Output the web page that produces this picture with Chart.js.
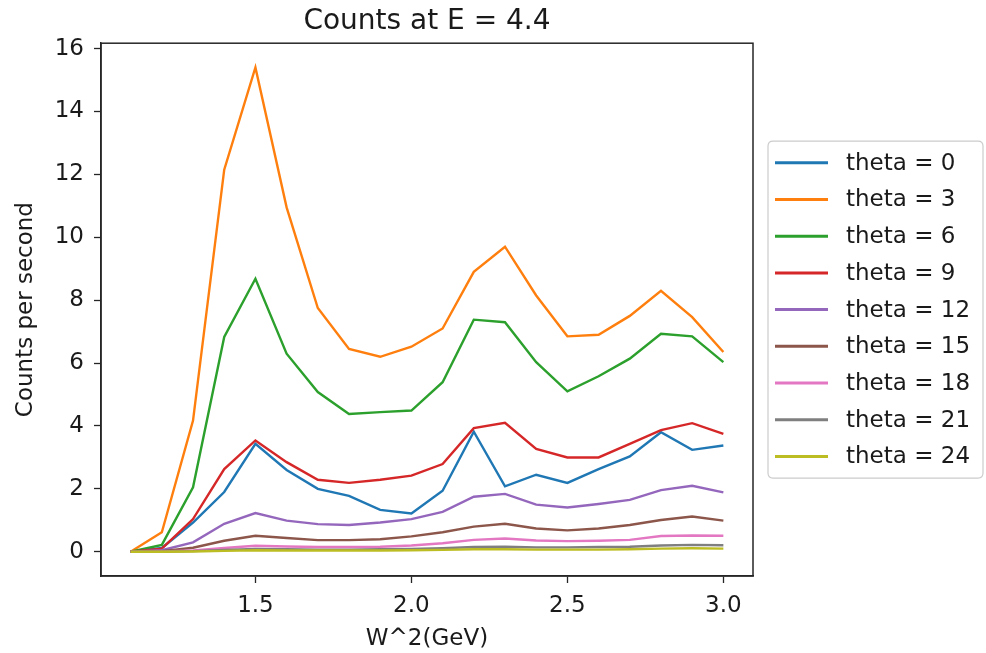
<!DOCTYPE html>
<html>
<head>
<meta charset="utf-8">
<script src="https://cdn.jsdelivr.net/npm/chart.js@4/dist/chart.umd.min.js"></script>
<style>
html,body{margin:0;padding:0;background:#ffffff;}
#c{display:block;}
</style>
</head>
<body>
<canvas id="c" width="986" height="653"></canvas>
<script>
// ---- data ----
const wSquared = [1.1, 1.2, 1.3, 1.4, 1.5, 1.6, 1.7, 1.8, 1.9, 2.0, 2.1, 2.2, 2.3, 2.4, 2.5, 2.6, 2.7, 2.8, 2.9, 3.0];
const theta0  = [0, 0.12, 0.93, 1.9, 3.43, 2.6, 2.0, 1.78, 1.33, 1.22, 1.94, 3.82, 2.08, 2.45, 2.19, 2.63, 3.03, 3.8, 3.24, 3.38];
const theta3  = [0, 0.62, 4.17, 12.15, 15.4, 10.95, 7.75, 6.45, 6.2, 6.52, 7.1, 8.9, 9.7, 8.15, 6.85, 6.9, 7.5, 8.3, 7.46, 6.35];
const theta6  = [0, 0.22, 2.05, 6.83, 8.68, 6.3, 5.08, 4.38, 4.44, 4.49, 5.39, 7.38, 7.3, 6.03, 5.1, 5.58, 6.14, 6.93, 6.85, 6.03];
const theta9  = [0, 0.1, 1.04, 2.63, 3.54, 2.85, 2.29, 2.19, 2.29, 2.42, 2.79, 3.93, 4.1, 3.27, 3.0, 3.0, 3.43, 3.87, 4.09, 3.75];
const theta12 = [0, 0.05, 0.3, 0.89, 1.23, 0.99, 0.88, 0.85, 0.93, 1.04, 1.27, 1.75, 1.84, 1.5, 1.41, 1.52, 1.65, 1.96, 2.1, 1.89];
const theta15 = [0, 0.02, 0.13, 0.35, 0.51, 0.44, 0.37, 0.37, 0.4, 0.49, 0.62, 0.8, 0.89, 0.74, 0.68, 0.74, 0.85, 1.01, 1.12, 0.99];
const theta18 = [0, 0.01, 0.04, 0.12, 0.19, 0.17, 0.15, 0.15, 0.16, 0.2, 0.27, 0.38, 0.42, 0.36, 0.34, 0.35, 0.38, 0.5, 0.52, 0.51];
const theta21 = [0, 0.005, 0.02, 0.06, 0.09, 0.08, 0.07, 0.07, 0.08, 0.09, 0.11, 0.15, 0.16, 0.14, 0.14, 0.15, 0.16, 0.2, 0.22, 0.21];
const theta24 = [0, 0.003, 0.01, 0.03, 0.05, 0.04, 0.04, 0.04, 0.04, 0.05, 0.06, 0.08, 0.08, 0.07, 0.07, 0.07, 0.08, 0.1, 0.11, 0.1];

const seriesLabels = ['theta = 0', 'theta = 3', 'theta = 6', 'theta = 9', 'theta = 12', 'theta = 15', 'theta = 18', 'theta = 21', 'theta = 24'];
const seriesValues = [theta0, theta3, theta6, theta9, theta12, theta15, theta18, theta21, theta24];
const xTickValues = [1.5, 2.0, 2.5, 3.0];
const yTickValues = [0, 2, 4, 6, 8, 10, 12, 14, 16];

const titleText = 'Counts at E = 4.4';
const xAxisTitle = 'W^2(GeV)';
const yAxisTitle = 'Counts per second';

// ---- styles ----
const seriesColors = ['#1f77b4', '#ff7f0e', '#2ca02c', '#d62728', '#9467bd', '#8c564b', '#e377c2', '#7f7f7f', '#bcbd22'];
const FONT = "'DejaVu Sans', sans-serif";
const TEXT = '#1a1a1a';
const AXIS = '#262626';

function margins(arr) {
  const lo = Math.min(...arr), hi = Math.max(...arr);
  const m = (hi - lo) * 0.05;
  return [lo - m, hi + m];
}
const [xMin, xMax] = margins(wSquared);
const [yMin, yMax] = margins(seriesValues.flat());

const datasets = seriesValues.map((vals, i) => ({
  label: seriesLabels[i],
  data: wSquared.map((x, j) => ({ x: x, y: vals[j] })),
  borderColor: seriesColors[i],
  backgroundColor: seriesColors[i],
  borderWidth: 2.4,
  pointRadius: 0,
  fill: false,
  tension: 0,
  order: seriesValues.length - i
}));

const framePlugin = {
  id: 'frame',
  afterDatasetsDraw(chart) {
    const { ctx, chartArea: a } = chart;
    ctx.save();
    ctx.strokeStyle = AXIS;
    ctx.lineWidth = 1.5;
    ctx.strokeRect(a.left, a.top, a.right - a.left, a.bottom - a.top);
    ctx.restore();
  }
};

const boxLegendPlugin = {
  id: 'boxLegend',
  afterDraw(chart) {
    const { ctx, chartArea: a } = chart;
    const ds = chart.data.datasets;
    const rowH = 36.7, edge = 21.7;
    const height = (ds.length - 1) * rowH + 2 * edge;
    const left = a.right + 15;
    const width = 215;
    const top = (a.top + a.bottom) / 2 - height / 2;
    ctx.save();
    const r = 5;
    ctx.beginPath();
    ctx.moveTo(left + r, top);
    ctx.lineTo(left + width - r, top);
    ctx.quadraticCurveTo(left + width, top, left + width, top + r);
    ctx.lineTo(left + width, top + height - r);
    ctx.quadraticCurveTo(left + width, top + height, left + width - r, top + height);
    ctx.lineTo(left + r, top + height);
    ctx.quadraticCurveTo(left, top + height, left, top + height - r);
    ctx.lineTo(left, top + r);
    ctx.quadraticCurveTo(left, top, left + r, top);
    ctx.closePath();
    ctx.fillStyle = 'rgba(255,255,255,0.8)';
    ctx.fill();
    ctx.strokeStyle = '#cccccc';
    ctx.lineWidth = 1.2;
    ctx.stroke();
    ctx.font = '23px ' + FONT;
    ctx.textBaseline = 'middle';
    ctx.textAlign = 'left';
    ds.forEach((d, i) => {
      const cy = top + edge + i * rowH;
      ctx.strokeStyle = d.borderColor;
      ctx.lineWidth = 3;
      ctx.beginPath();
      ctx.moveTo(left + 7, cy);
      ctx.lineTo(left + 60, cy);
      ctx.stroke();
      ctx.fillStyle = TEXT;
      ctx.fillText(d.label, left + 78, cy + 1);
    });
    ctx.restore();
  }
};

new Chart(document.getElementById('c'), {
  type: 'line',
  data: { datasets: datasets },
  options: {
    responsive: false,
    animation: false,
    devicePixelRatio: 1,
    layout: { padding: { top: 0, right: 233, bottom: 0, left: 0 } },
    plugins: {
      legend: { display: false },
      tooltip: { enabled: false },
      title: {
        display: true,
        text: titleText,
        fullSize: false,
        color: TEXT,
        font: { family: FONT, size: 28, weight: 'normal', lineHeight: 1.2 },
        padding: { top: 5, bottom: 4.6 }
      }
    },
    scales: {
      x: {
        type: 'linear',
        min: xMin,
        max: xMax,
        afterFit(s) { s.height = 77; },
        afterBuildTicks(s) { s.ticks = xTickValues.map(v => ({ value: v })); },
        grid: { display: true, drawOnChartArea: false, drawTicks: true, tickLength: 7, color: AXIS, tickColor: AXIS, tickWidth: 1.3 },
        border: { display: true, color: AXIS, width: 1.5 },
        ticks: {
          color: TEXT,
          font: { family: FONT, size: 23 },
          padding: 9,
          maxRotation: 0,
          autoSkip: false,
          callback: v => v.toFixed(1)
        },
        title: {
          display: true,
          text: xAxisTitle,
          color: TEXT,
          font: { family: FONT, size: 23 },
          padding: { top: 0, bottom: 0 }
        }
      },
      y: {
        type: 'linear',
        min: yMin,
        max: yMax,
        afterFit(s) { s.width = 101; },
        afterBuildTicks(s) { s.ticks = yTickValues.map(v => ({ value: v })); },
        grid: { display: true, drawOnChartArea: false, drawTicks: true, tickLength: 7, color: AXIS, tickColor: AXIS, tickWidth: 1.3 },
        border: { display: true, color: AXIS, width: 1.5 },
        ticks: {
          color: TEXT,
          font: { family: FONT, size: 23 },
          padding: 10,
          autoSkip: false,
          callback: v => String(v)
        },
        title: {
          display: true,
          text: yAxisTitle,
          color: TEXT,
          font: { family: FONT, size: 23 },
          padding: { top: 12, bottom: 0 }
        }
      }
    }
  },
  plugins: [framePlugin, boxLegendPlugin]
});
</script>
</body>
</html>
